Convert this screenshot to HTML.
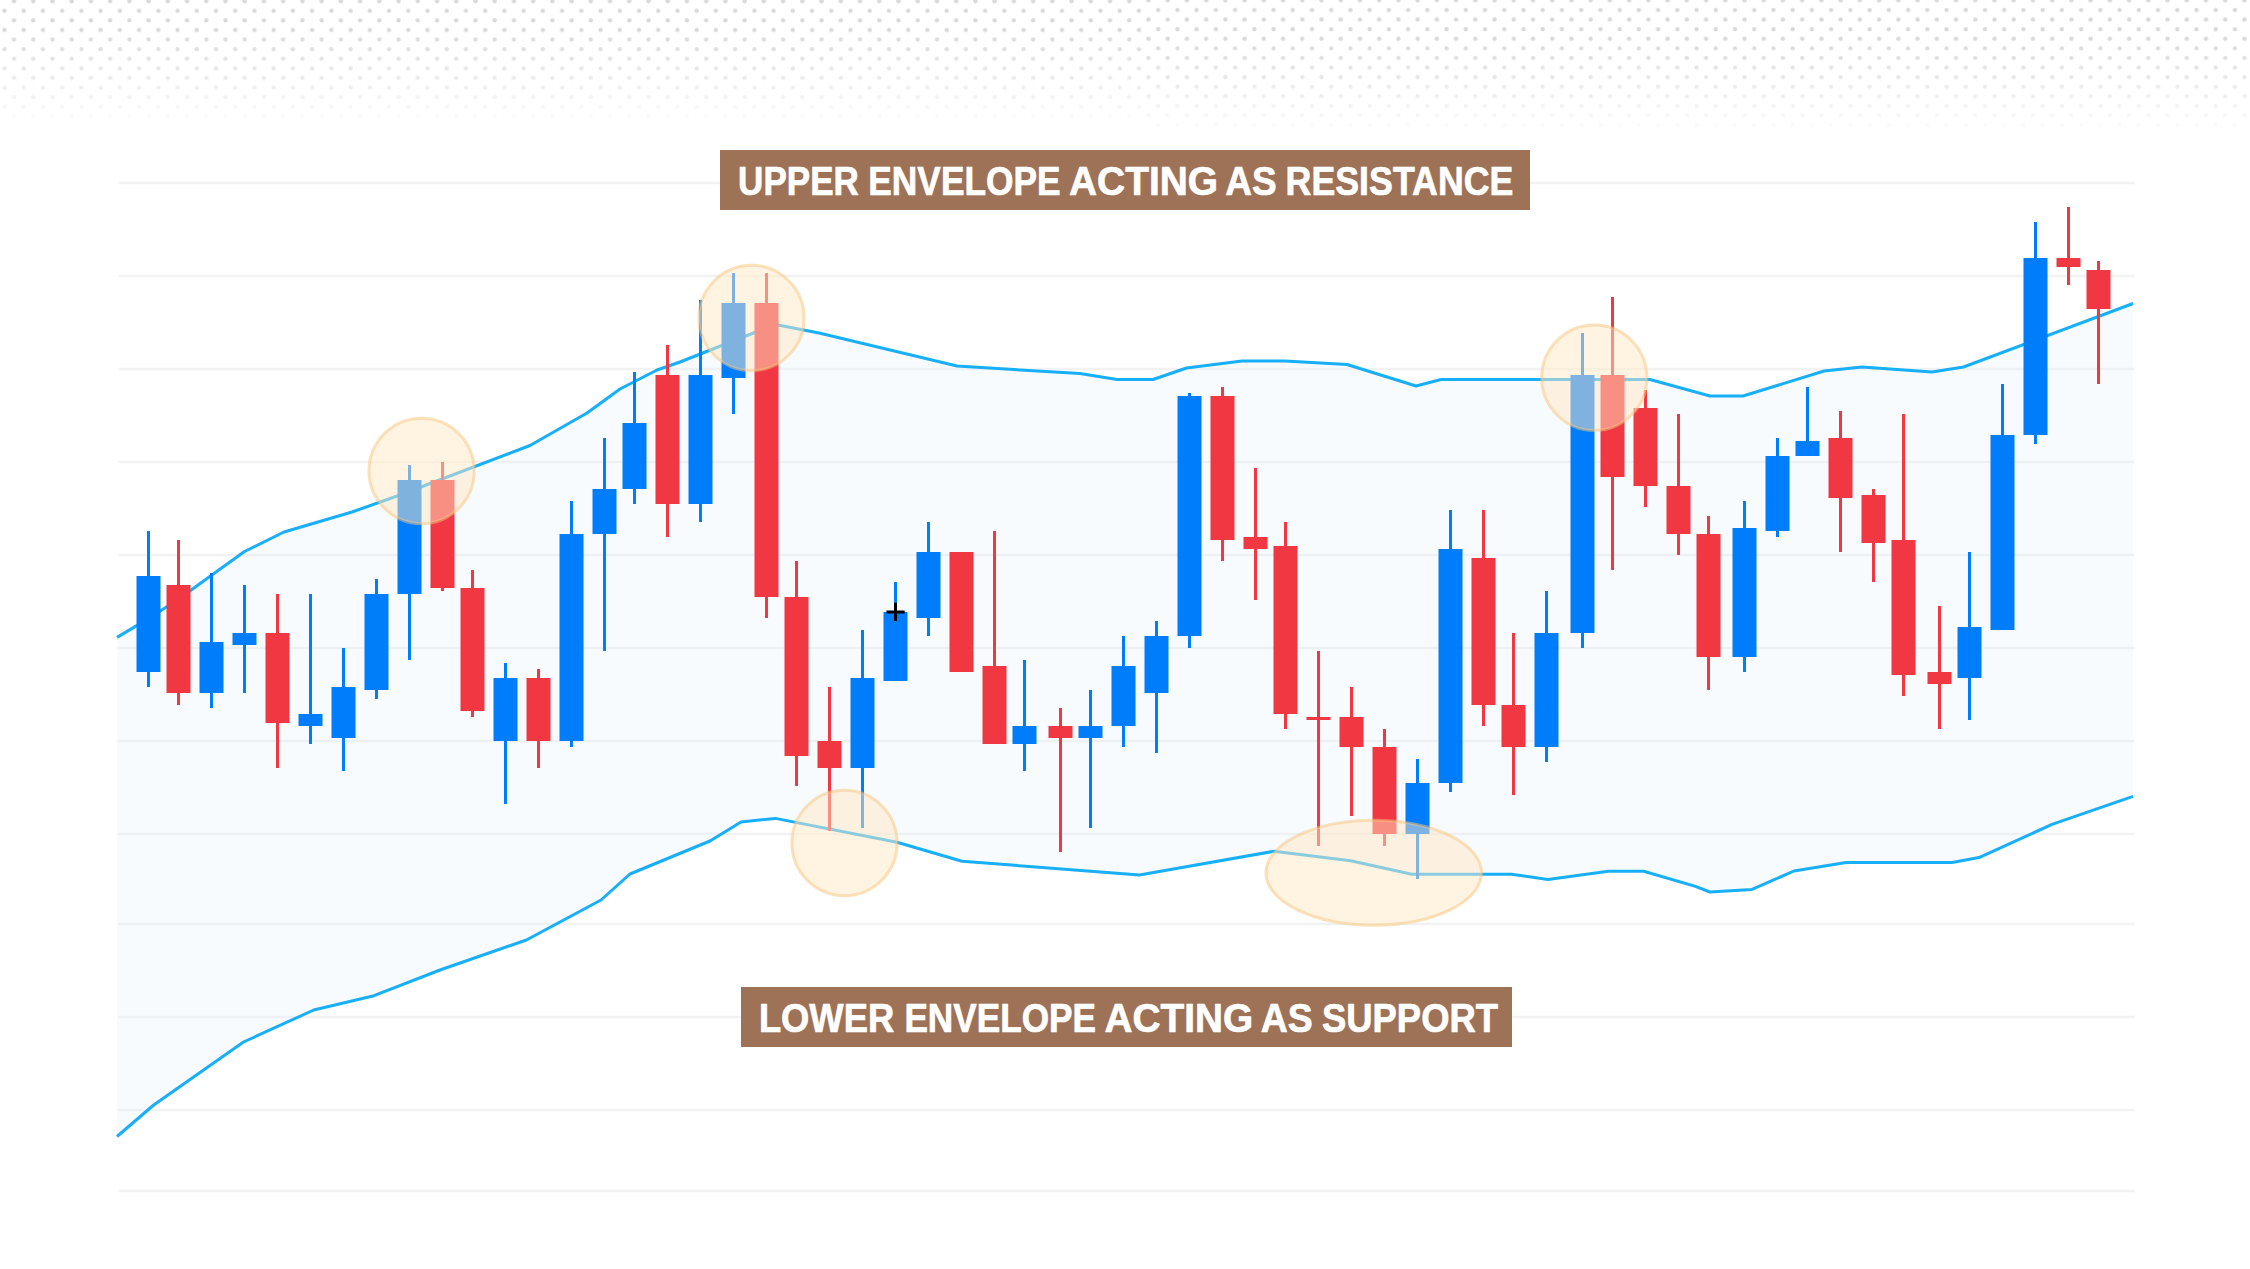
<!DOCTYPE html>
<html lang="en"><head><meta charset="utf-8"><title>Envelope support and resistance</title>
<style>
html,body{margin:0;padding:0;background:#fff}
body{width:2250px;height:1269px;overflow:hidden;font-family:"Liberation Sans",sans-serif}
svg{display:block}
.lbl{font-family:"Liberation Sans",sans-serif;font-weight:700;fill:#fff;stroke:#fff;stroke-width:.7px;stroke-linejoin:round}
</style></head><body>
<svg width="2250" height="1269" viewBox="0 0 2250 1269">
<defs>
<pattern id="dots" x="0" y="0" width="19.228" height="19.2" patternUnits="userSpaceOnUse">
<circle cx="14" cy="1.1" r="2.15" fill="#d9d9d9"/><circle cx="14" cy="20.3" r="2.15" fill="#d9d9d9"/>
<circle cx="4.5" cy="10.7" r="2.15" fill="#d9d9d9"/>
</pattern>
<pattern id="dots2" x="0" y="-0.8" width="19.228" height="19.2" patternUnits="userSpaceOnUse">
<circle cx="14" cy="1.1" r="2.15" fill="#d9d9d9"/><circle cx="14" cy="20.3" r="2.15" fill="#d9d9d9"/>
<circle cx="4.5" cy="10.7" r="2.15" fill="#d9d9d9"/>
</pattern>
<linearGradient id="fade" gradientUnits="userSpaceOnUse" x1="0" y1="0" x2="0" y2="140">
<stop offset="0" stop-color="#fff"/><stop offset="0.2143" stop-color="#fff"/><stop offset="0.9143" stop-color="#000"/><stop offset="1" stop-color="#000"/>
</linearGradient>
<linearGradient id="fade2" gradientUnits="userSpaceOnUse" x1="0" y1="0" x2="0" y2="140">
<stop offset="0" stop-color="#fff"/><stop offset="0.2643" stop-color="#fff"/><stop offset="0.9714" stop-color="#000"/><stop offset="1" stop-color="#000"/>
</linearGradient>
<mask id="fm" maskUnits="userSpaceOnUse" x="0" y="0" width="2250" height="140"><rect x="0" y="0" width="1143.7" height="140" fill="url(#fade)"/><rect x="1143.7" y="0" width="1106.3" height="140" fill="url(#fade2)"/></mask>
</defs>
<rect width="2250" height="1269" fill="#fff"/>
<g mask="url(#fm)"><rect x="0" y="0" width="1143.7" height="140" fill="url(#dots)"/><rect x="1143.7" y="0" width="1106.3" height="140" fill="url(#dots2)"/></g>

<g stroke="#f2f2f2" stroke-width="2.5">
<line x1="118.5" y1="183" x2="2134.5" y2="183"/>
<line x1="118.5" y1="276" x2="2134.5" y2="276"/>
<line x1="118.5" y1="369" x2="2134.5" y2="369"/>
<line x1="118.5" y1="462" x2="2134.5" y2="462"/>
<line x1="118.5" y1="555" x2="2134.5" y2="555"/>
<line x1="118.5" y1="648" x2="2134.5" y2="648"/>
<line x1="118.5" y1="741" x2="2134.5" y2="741"/>
<line x1="118.5" y1="834" x2="2134.5" y2="834"/>
<line x1="118.5" y1="924" x2="2134.5" y2="924"/>
<line x1="118.5" y1="1017" x2="2134.5" y2="1017"/>
<line x1="118.5" y1="1110" x2="2134.5" y2="1110"/>
<line x1="118.5" y1="1191" x2="2134.5" y2="1191"/>
</g>
<polygon points="117,637.4 148.5,618.6 178.5,599.2 211.5,575.3 244.5,551.5 284,532 352,512 400,495 530,445.5 587,413 620,389 657,370 680,362 756,332 778,325 819,333 957,366 1080,373.6 1117,379.5 1153,379.5 1186.5,368 1242,361 1285,361 1347,364.5 1416,386 1441,379.5 1650,379.5 1710,396 1743,396 1824,371 1862,367 1932,372 1963.5,367 2133,303.5 2133,796.4 2052,824.4 1979,857.6 1952,862.4 1846,862.4 1794,871 1752,889.4 1710,892 1695.4,886.4 1643.7,871.3 1608.4,871.3 1547.9,879.4 1511.3,874.3 1411.7,874.3 1350.7,860.7 1273.8,851.3 1139.4,875 962,861.2 897,842.3 775.3,818.4 741,822 710,841 630,874 601,900 526.4,940 440,970 374,995.7 313.7,1010 243.5,1042 153.7,1105 117,1136.5" fill="#f8fbfe"/>
<clipPath id="bc"><polygon points="117,637.4 148.5,618.6 178.5,599.2 211.5,575.3 244.5,551.5 284,532 352,512 400,495 530,445.5 587,413 620,389 657,370 680,362 756,332 778,325 819,333 957,366 1080,373.6 1117,379.5 1153,379.5 1186.5,368 1242,361 1285,361 1347,364.5 1416,386 1441,379.5 1650,379.5 1710,396 1743,396 1824,371 1862,367 1932,372 1963.5,367 2133,303.5 2133,796.4 2052,824.4 1979,857.6 1952,862.4 1846,862.4 1794,871 1752,889.4 1710,892 1695.4,886.4 1643.7,871.3 1608.4,871.3 1547.9,879.4 1511.3,874.3 1411.7,874.3 1350.7,860.7 1273.8,851.3 1139.4,875 962,861.2 897,842.3 775.3,818.4 741,822 710,841 630,874 601,900 526.4,940 440,970 374,995.7 313.7,1010 243.5,1042 153.7,1105 117,1136.5"/></clipPath>
<g stroke="#edf1f4" stroke-width="2.5" clip-path="url(#bc)">
<line x1="118.5" y1="183" x2="2134.5" y2="183"/>
<line x1="118.5" y1="276" x2="2134.5" y2="276"/>
<line x1="118.5" y1="369" x2="2134.5" y2="369"/>
<line x1="118.5" y1="462" x2="2134.5" y2="462"/>
<line x1="118.5" y1="555" x2="2134.5" y2="555"/>
<line x1="118.5" y1="648" x2="2134.5" y2="648"/>
<line x1="118.5" y1="741" x2="2134.5" y2="741"/>
<line x1="118.5" y1="834" x2="2134.5" y2="834"/>
<line x1="118.5" y1="924" x2="2134.5" y2="924"/>
<line x1="118.5" y1="1017" x2="2134.5" y2="1017"/>
<line x1="118.5" y1="1110" x2="2134.5" y2="1110"/>
<line x1="118.5" y1="1191" x2="2134.5" y2="1191"/>
</g>
<polyline points="117,637.4 148.5,618.6 178.5,599.2 211.5,575.3 244.5,551.5 284,532 352,512 400,495 530,445.5 587,413 620,389 657,370 680,362 756,332 778,325 819,333 957,366 1080,373.6 1117,379.5 1153,379.5 1186.5,368 1242,361 1285,361 1347,364.5 1416,386 1441,379.5 1650,379.5 1710,396 1743,396 1824,371 1862,367 1932,372 1963.5,367 2133,303.5" fill="none" stroke="#18aff9" stroke-width="3" stroke-linejoin="round"/>
<polyline points="117,1136.5 153.7,1105 243.5,1042 313.7,1010 374,995.7 440,970 526.4,940 601,900 630,874 710,841 741,822 775.3,818.4 897,842.3 962,861.2 1139.4,875 1273.8,851.3 1350.7,860.7 1411.7,874.3 1511.3,874.3 1547.9,879.4 1608.4,871.3 1643.7,871.3 1695.4,886.4 1710,892 1752,889.4 1794,871 1846,862.4 1952,862.4 1979,857.6 2052,824.4 2133,796.4" fill="none" stroke="#18aff9" stroke-width="3" stroke-linejoin="round"/>
<g fill="#007dfa"><rect x="147" y="531" width="3" height="156"/><rect x="136.5" y="576" width="24" height="96"/></g>
<g fill="#f03742"><rect x="177" y="540" width="3" height="165"/><rect x="166.5" y="585" width="24" height="108"/></g>
<g fill="#007dfa"><rect x="210" y="573" width="3" height="135"/><rect x="199.5" y="642" width="24" height="51"/></g>
<g fill="#007dfa"><rect x="243" y="585" width="3" height="108"/><rect x="232.5" y="633" width="24" height="12"/></g>
<g fill="#f03742"><rect x="276" y="594" width="3" height="174"/><rect x="265.5" y="633" width="24" height="90"/></g>
<g fill="#007dfa"><rect x="309" y="594" width="3" height="150"/><rect x="298.5" y="714" width="24" height="12"/></g>
<g fill="#007dfa"><rect x="342" y="648" width="3" height="123"/><rect x="331.5" y="687" width="24" height="51"/></g>
<g fill="#007dfa"><rect x="375" y="579" width="3" height="120"/><rect x="364.5" y="594" width="24" height="96"/></g>
<g fill="#007dfa"><rect x="408" y="465" width="3" height="195"/><rect x="397.5" y="480" width="24" height="114"/></g>
<g fill="#f03742"><rect x="441" y="462" width="3" height="129"/><rect x="430.5" y="480" width="24" height="108"/></g>
<g fill="#f03742"><rect x="471" y="570" width="3" height="147"/><rect x="460.5" y="588" width="24" height="123"/></g>
<g fill="#007dfa"><rect x="504" y="663" width="3" height="141"/><rect x="493.5" y="678" width="24" height="63"/></g>
<g fill="#f03742"><rect x="537" y="669" width="3" height="99"/><rect x="526.5" y="678" width="24" height="63"/></g>
<g fill="#007dfa"><rect x="570" y="501" width="3" height="246"/><rect x="559.5" y="534" width="24" height="207"/></g>
<g fill="#007dfa"><rect x="603" y="438" width="3" height="213"/><rect x="592.5" y="489" width="24" height="45"/></g>
<g fill="#007dfa"><rect x="633" y="372" width="3" height="132"/><rect x="622.5" y="423" width="24" height="66"/></g>
<g fill="#f03742"><rect x="666" y="345" width="3" height="192"/><rect x="655.5" y="375" width="24" height="129"/></g>
<g fill="#007dfa"><rect x="699" y="300" width="3" height="222"/><rect x="688.5" y="375" width="24" height="129"/></g>
<g fill="#007dfa"><rect x="732" y="273" width="3" height="141"/><rect x="721.5" y="303" width="24" height="75"/></g>
<g fill="#f03742"><rect x="765" y="273" width="3" height="345"/><rect x="754.5" y="303" width="24" height="294"/></g>
<g fill="#f03742"><rect x="795" y="561" width="3" height="225"/><rect x="784.5" y="597" width="24" height="159"/></g>
<g fill="#f03742"><rect x="828" y="687" width="3" height="144"/><rect x="817.5" y="741" width="24" height="27"/></g>
<g fill="#007dfa"><rect x="861" y="630" width="3" height="198"/><rect x="850.5" y="678" width="24" height="90"/></g>
<g fill="#007dfa"><rect x="894" y="582" width="3" height="99"/><rect x="883.5" y="612" width="24" height="69"/></g>
<g fill="#007dfa"><rect x="927" y="522" width="3" height="114"/><rect x="916.5" y="552" width="24" height="66"/></g>
<g fill="#f03742"><rect x="960" y="552" width="3" height="120"/><rect x="949.5" y="552" width="24" height="120"/></g>
<g fill="#f03742"><rect x="993" y="531" width="3" height="213"/><rect x="982.5" y="666" width="24" height="78"/></g>
<g fill="#007dfa"><rect x="1023" y="660" width="3" height="111"/><rect x="1012.5" y="726" width="24" height="18"/></g>
<g fill="#f03742"><rect x="1059" y="708" width="3" height="144"/><rect x="1048.5" y="726" width="24" height="12"/></g>
<g fill="#007dfa"><rect x="1089" y="690" width="3" height="138"/><rect x="1078.5" y="726" width="24" height="12"/></g>
<g fill="#007dfa"><rect x="1122" y="636" width="3" height="111"/><rect x="1111.5" y="666" width="24" height="60"/></g>
<g fill="#007dfa"><rect x="1155" y="621" width="3" height="132"/><rect x="1144.5" y="636" width="24" height="57"/></g>
<g fill="#007dfa"><rect x="1188" y="393" width="3" height="255"/><rect x="1177.5" y="396" width="24" height="240"/></g>
<g fill="#f03742"><rect x="1221" y="387" width="3" height="174"/><rect x="1210.5" y="396" width="24" height="144"/></g>
<g fill="#f03742"><rect x="1254" y="468" width="3" height="132"/><rect x="1243.5" y="537" width="24" height="12"/></g>
<g fill="#f03742"><rect x="1284" y="522" width="3" height="207"/><rect x="1273.5" y="546" width="24" height="168"/></g>
<g fill="#f03742"><rect x="1317" y="651" width="3" height="195"/><rect x="1306.5" y="717" width="24" height="3"/></g>
<g fill="#f03742"><rect x="1350" y="687" width="3" height="129"/><rect x="1339.5" y="717" width="24" height="30"/></g>
<g fill="#f03742"><rect x="1383" y="729" width="3" height="117"/><rect x="1372.5" y="747" width="24" height="87"/></g>
<g fill="#007dfa"><rect x="1416" y="759" width="3" height="120"/><rect x="1405.5" y="783" width="24" height="51"/></g>
<g fill="#007dfa"><rect x="1449" y="510" width="3" height="282"/><rect x="1438.5" y="549" width="24" height="234"/></g>
<g fill="#f03742"><rect x="1482" y="510" width="3" height="216"/><rect x="1471.5" y="558" width="24" height="147"/></g>
<g fill="#f03742"><rect x="1512" y="633" width="3" height="162"/><rect x="1501.5" y="705" width="24" height="42"/></g>
<g fill="#007dfa"><rect x="1545" y="591" width="3" height="171"/><rect x="1534.5" y="633" width="24" height="114"/></g>
<g fill="#007dfa"><rect x="1581" y="333" width="3" height="315"/><rect x="1570.5" y="375" width="24" height="258"/></g>
<g fill="#f03742"><rect x="1611" y="297" width="3" height="273"/><rect x="1600.5" y="375" width="24" height="102"/></g>
<g fill="#f03742"><rect x="1644" y="390" width="3" height="117"/><rect x="1633.5" y="408" width="24" height="78"/></g>
<g fill="#f03742"><rect x="1677" y="414" width="3" height="141"/><rect x="1666.5" y="486" width="24" height="48"/></g>
<g fill="#f03742"><rect x="1707" y="516" width="3" height="174"/><rect x="1696.5" y="534" width="24" height="123"/></g>
<g fill="#007dfa"><rect x="1743" y="501" width="3" height="171"/><rect x="1732.5" y="528" width="24" height="129"/></g>
<g fill="#007dfa"><rect x="1776" y="438" width="3" height="99"/><rect x="1765.5" y="456" width="24" height="75"/></g>
<g fill="#007dfa"><rect x="1806" y="387" width="3" height="69"/><rect x="1795.5" y="441" width="24" height="15"/></g>
<g fill="#f03742"><rect x="1839" y="411" width="3" height="141"/><rect x="1828.5" y="438" width="24" height="60"/></g>
<g fill="#f03742"><rect x="1872" y="489" width="3" height="93"/><rect x="1861.5" y="495" width="24" height="48"/></g>
<g fill="#f03742"><rect x="1902" y="414" width="3" height="282"/><rect x="1891.5" y="540" width="24" height="135"/></g>
<g fill="#f03742"><rect x="1938" y="606" width="3" height="123"/><rect x="1927.5" y="672" width="24" height="12"/></g>
<g fill="#007dfa"><rect x="1968" y="552" width="3" height="168"/><rect x="1957.5" y="627" width="24" height="51"/></g>
<g fill="#007dfa"><rect x="2001" y="384" width="3" height="246"/><rect x="1990.5" y="435" width="24" height="195"/></g>
<g fill="#007dfa"><rect x="2034" y="222" width="3" height="222"/><rect x="2023.5" y="258" width="24" height="177"/></g>
<g fill="#f03742"><rect x="2067" y="207" width="3" height="78"/><rect x="2056.5" y="258" width="24" height="9"/></g>
<g fill="#f03742"><rect x="2097" y="261" width="3" height="123"/><rect x="2086.5" y="270" width="24" height="39"/></g>
<ellipse cx="421.6" cy="470.9" rx="52.6" ry="52.7" fill="#ffe8c4" fill-opacity="0.5" stroke="#f8c57e" stroke-opacity="0.5" stroke-width="3"/>
<ellipse cx="751.5" cy="318" rx="52.6" ry="52.7" fill="#ffe8c4" fill-opacity="0.5" stroke="#f8c57e" stroke-opacity="0.5" stroke-width="3"/>
<ellipse cx="844.5" cy="843" rx="52.6" ry="52.7" fill="#ffe8c4" fill-opacity="0.5" stroke="#f8c57e" stroke-opacity="0.5" stroke-width="3"/>
<ellipse cx="1594.3" cy="377.8" rx="52.6" ry="52.7" fill="#ffe8c4" fill-opacity="0.5" stroke="#f8c57e" stroke-opacity="0.5" stroke-width="3"/>
<ellipse cx="1373.7" cy="872.8" rx="107.8" ry="52.5" fill="#ffe8c4" fill-opacity="0.5" stroke="#f8c57e" stroke-opacity="0.5" stroke-width="3"/>
<path d="M886.5 612.1h18.2M895.5 602.7v18.4" stroke="#000" stroke-width="3" fill="none"/>
<rect x="720" y="150" width="810" height="60" fill="#9d7257"/>
<text class="lbl" x="738.1" y="195" font-size="40" textLength="120.7" lengthAdjust="spacingAndGlyphs">UPPER</text>
<text class="lbl" x="868.3" y="195" font-size="40" textLength="192.3" lengthAdjust="spacingAndGlyphs">ENVELOPE</text>
<text class="lbl" x="1069.0" y="195" font-size="40" textLength="149.1" lengthAdjust="spacingAndGlyphs">ACTING</text>
<text class="lbl" x="1225.3" y="195" font-size="40" textLength="51.4" lengthAdjust="spacingAndGlyphs">AS</text>
<text class="lbl" x="1285.6" y="195" font-size="40" textLength="227.8" lengthAdjust="spacingAndGlyphs">RESISTANCE</text>
<rect x="741" y="987" width="771" height="60" fill="#9d7257"/>
<text class="lbl" x="758.9" y="1032" font-size="40" textLength="135.3" lengthAdjust="spacingAndGlyphs">LOWER</text>
<text class="lbl" x="904.4" y="1032" font-size="40" textLength="191.6" lengthAdjust="spacingAndGlyphs">ENVELOPE</text>
<text class="lbl" x="1104.6" y="1032" font-size="40" textLength="148.7" lengthAdjust="spacingAndGlyphs">ACTING</text>
<text class="lbl" x="1260.7" y="1032" font-size="40" textLength="52.0" lengthAdjust="spacingAndGlyphs">AS</text>
<text class="lbl" x="1322.0" y="1032" font-size="40" textLength="176.0" lengthAdjust="spacingAndGlyphs">SUPPORT</text>
</svg></body></html>
